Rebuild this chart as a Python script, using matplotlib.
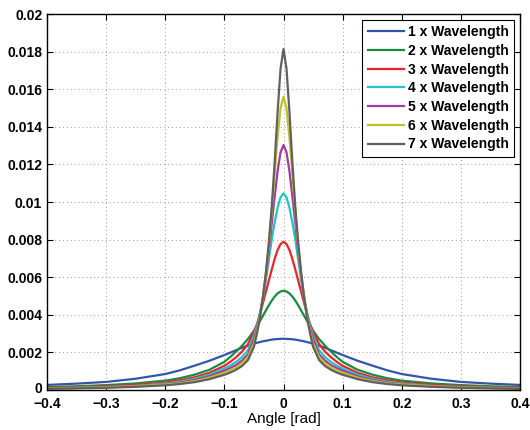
import matplotlib
matplotlib.use("Agg")
import matplotlib.pyplot as plt
import matplotlib.transforms as mtransforms
import numpy as np

plt.rcParams['font.family'] = ['Liberation Sans', 'DejaVu Sans']

# half profile (curves are symmetric about 0)
x_half = [0, 0.005, 0.01, 0.015, 0.02, 0.025, 0.03, 0.035, 0.04, 0.045, 0.05, 0.06,
          0.07, 0.08, 0.09, 0.1, 0.125, 0.15, 0.175, 0.2, 0.25, 0.3, 0.35, 0.4]

w1 = [0.00273, 0.00272, 0.00271, 0.00270, 0.00268, 0.00265, 0.00262, 0.00259, 0.00255, 0.00251, 0.00246, 0.00236,
      0.00225, 0.00212, 0.00199, 0.00186, 0.00156, 0.0013, 0.00105, 0.00085, 0.0006, 0.00043, 0.00034, 0.00027]
w2 = [0.00528, 0.00524, 0.00514, 0.00497, 0.00475, 0.0045, 0.00422, 0.00394, 0.00366, 0.0034, 0.00315, 0.00272,
      0.00236, 0.00205, 0.00176, 0.0015, 0.00108, 0.00082, 0.00063, 0.0005, 0.00035, 0.00026, 0.0002, 0.00016]
w3 = [0.00789, 0.00776, 0.00745, 0.00697, 0.0064, 0.0058, 0.0052, 0.0046, 0.0040, 0.0035, 0.0031, 0.00245,
      0.00205, 0.00175, 0.0015, 0.00129, 0.00092, 0.00068, 0.00052, 0.0004, 0.00027, 0.0002, 0.00015, 0.00012]
w4 = [0.01046, 0.01025, 0.0097, 0.0089, 0.0080, 0.0069, 0.0058, 0.0048, 0.0041, 0.0034, 0.0029, 0.00212,
      0.00176, 0.0015, 0.0013, 0.00115, 0.00082, 0.0006, 0.00045, 0.00034, 0.00022, 0.00016, 0.00012, 0.0001]
w5 = [0.01303, 0.01265, 0.01165, 0.01028, 0.00883, 0.0073, 0.0060, 0.0049, 0.0040, 0.0032, 0.0027, 0.0019,
      0.00157, 0.00133, 0.00117, 0.00103, 0.00073, 0.00053, 0.0004, 0.0003, 0.0002, 0.00014, 0.00011, 0.00009]
w6 = [0.0156, 0.0150, 0.01345, 0.0115, 0.0095, 0.0076, 0.0061, 0.0049, 0.0039, 0.0031, 0.0025, 0.00175,
      0.00143, 0.0012, 0.00105, 0.00092, 0.00066, 0.00048, 0.00036, 0.00029, 0.0002, 0.00014, 0.00011, 0.00008]
w7 = [0.01814, 0.0171, 0.0148, 0.0121, 0.0097, 0.0078, 0.0062, 0.0049, 0.0038, 0.0030, 0.0023, 0.0016,
      0.00128, 0.00108, 0.00093, 0.00081, 0.00058, 0.00042, 0.00032, 0.00025, 0.00017, 0.00012, 0.00009, 0.00007]

series = [w1, w2, w3, w4, w5, w6, w7]
labels = ['1 x Wavelength', '2 x Wavelength', '3 x Wavelength', '4 x Wavelength',
          '5 x Wavelength', '6 x Wavelength', '7 x Wavelength']
colors = ['#3355aa', '#1a8a40', '#ee2228', '#22c4c4', '#a23aa2', '#c0c02a', '#606060']

xticks = [-0.4, -0.3, -0.2, -0.1, 0, 0.1, 0.2, 0.3, 0.4]
xticklabels = ['\u22120.4', '\u22120.3', '\u22120.2', '\u22120.1', '0', '0.1', '0.2', '0.3', '0.4']
yticks = [0, 0.002, 0.004, 0.006, 0.008, 0.01, 0.012, 0.014, 0.016, 0.018, 0.02]
yticklabels = ['0', '0.002', '0.004', '0.006', '0.008', '0.01', '0.012', '0.014', '0.016', '0.018', '0.02']

xh = np.array(x_half)
x = np.concatenate([-xh[:0:-1], xh])

fig = plt.figure(figsize=(5.3, 4.3), dpi=100)
ax = fig.add_axes([0.0887, 0.093, 0.8925, 0.8744])

for vals, lab, c in zip(series, labels, colors):
    v = np.array(vals)
    y = np.concatenate([v[:0:-1], v])
    ax.plot(x, y, color=c, lw=1.6, label=lab)

ax.set_xlim(-0.4, 0.4)
ax.set_ylim(0, 0.02)
ax.set_xticks(xticks)
ax.set_xticklabels(xticklabels, fontsize=10, fontweight='bold')
ax.set_yticks(yticks)
ax.set_yticklabels(yticklabels, fontsize=10, fontweight='bold')
ax.tick_params(direction='in', top=True, right=True, length=4, width=0.8)
ax.tick_params(axis='x', pad=5)
ax.tick_params(axis='y', pad=3.5)
ax.grid(True, linestyle=(0, (1, 3)), color='#999999', lw=0.7)
for s in ax.spines.values():
    s.set_linewidth(1.0)
ax.set_xlabel('Angle [rad]', fontsize=11, labelpad=1)

# nudge the "0" y label up a little so it clears "-0.4"
lab0 = ax.get_yticklabels()[0]
lab0.set_transform(lab0.get_transform() + mtransforms.ScaledTranslation(0, 2 / 72, fig.dpi_scale_trans))

leg = ax.legend(loc='upper right', prop={'weight': 'bold', 'size': 10},
                fancybox=False, edgecolor='black', framealpha=1, handlelength=2.6,
                handletextpad=0.3, borderpad=0.4, labelspacing=0.34, borderaxespad=0.4)
leg.get_frame().set_linewidth(0.8)

fig.savefig('out.png', dpi=100)
